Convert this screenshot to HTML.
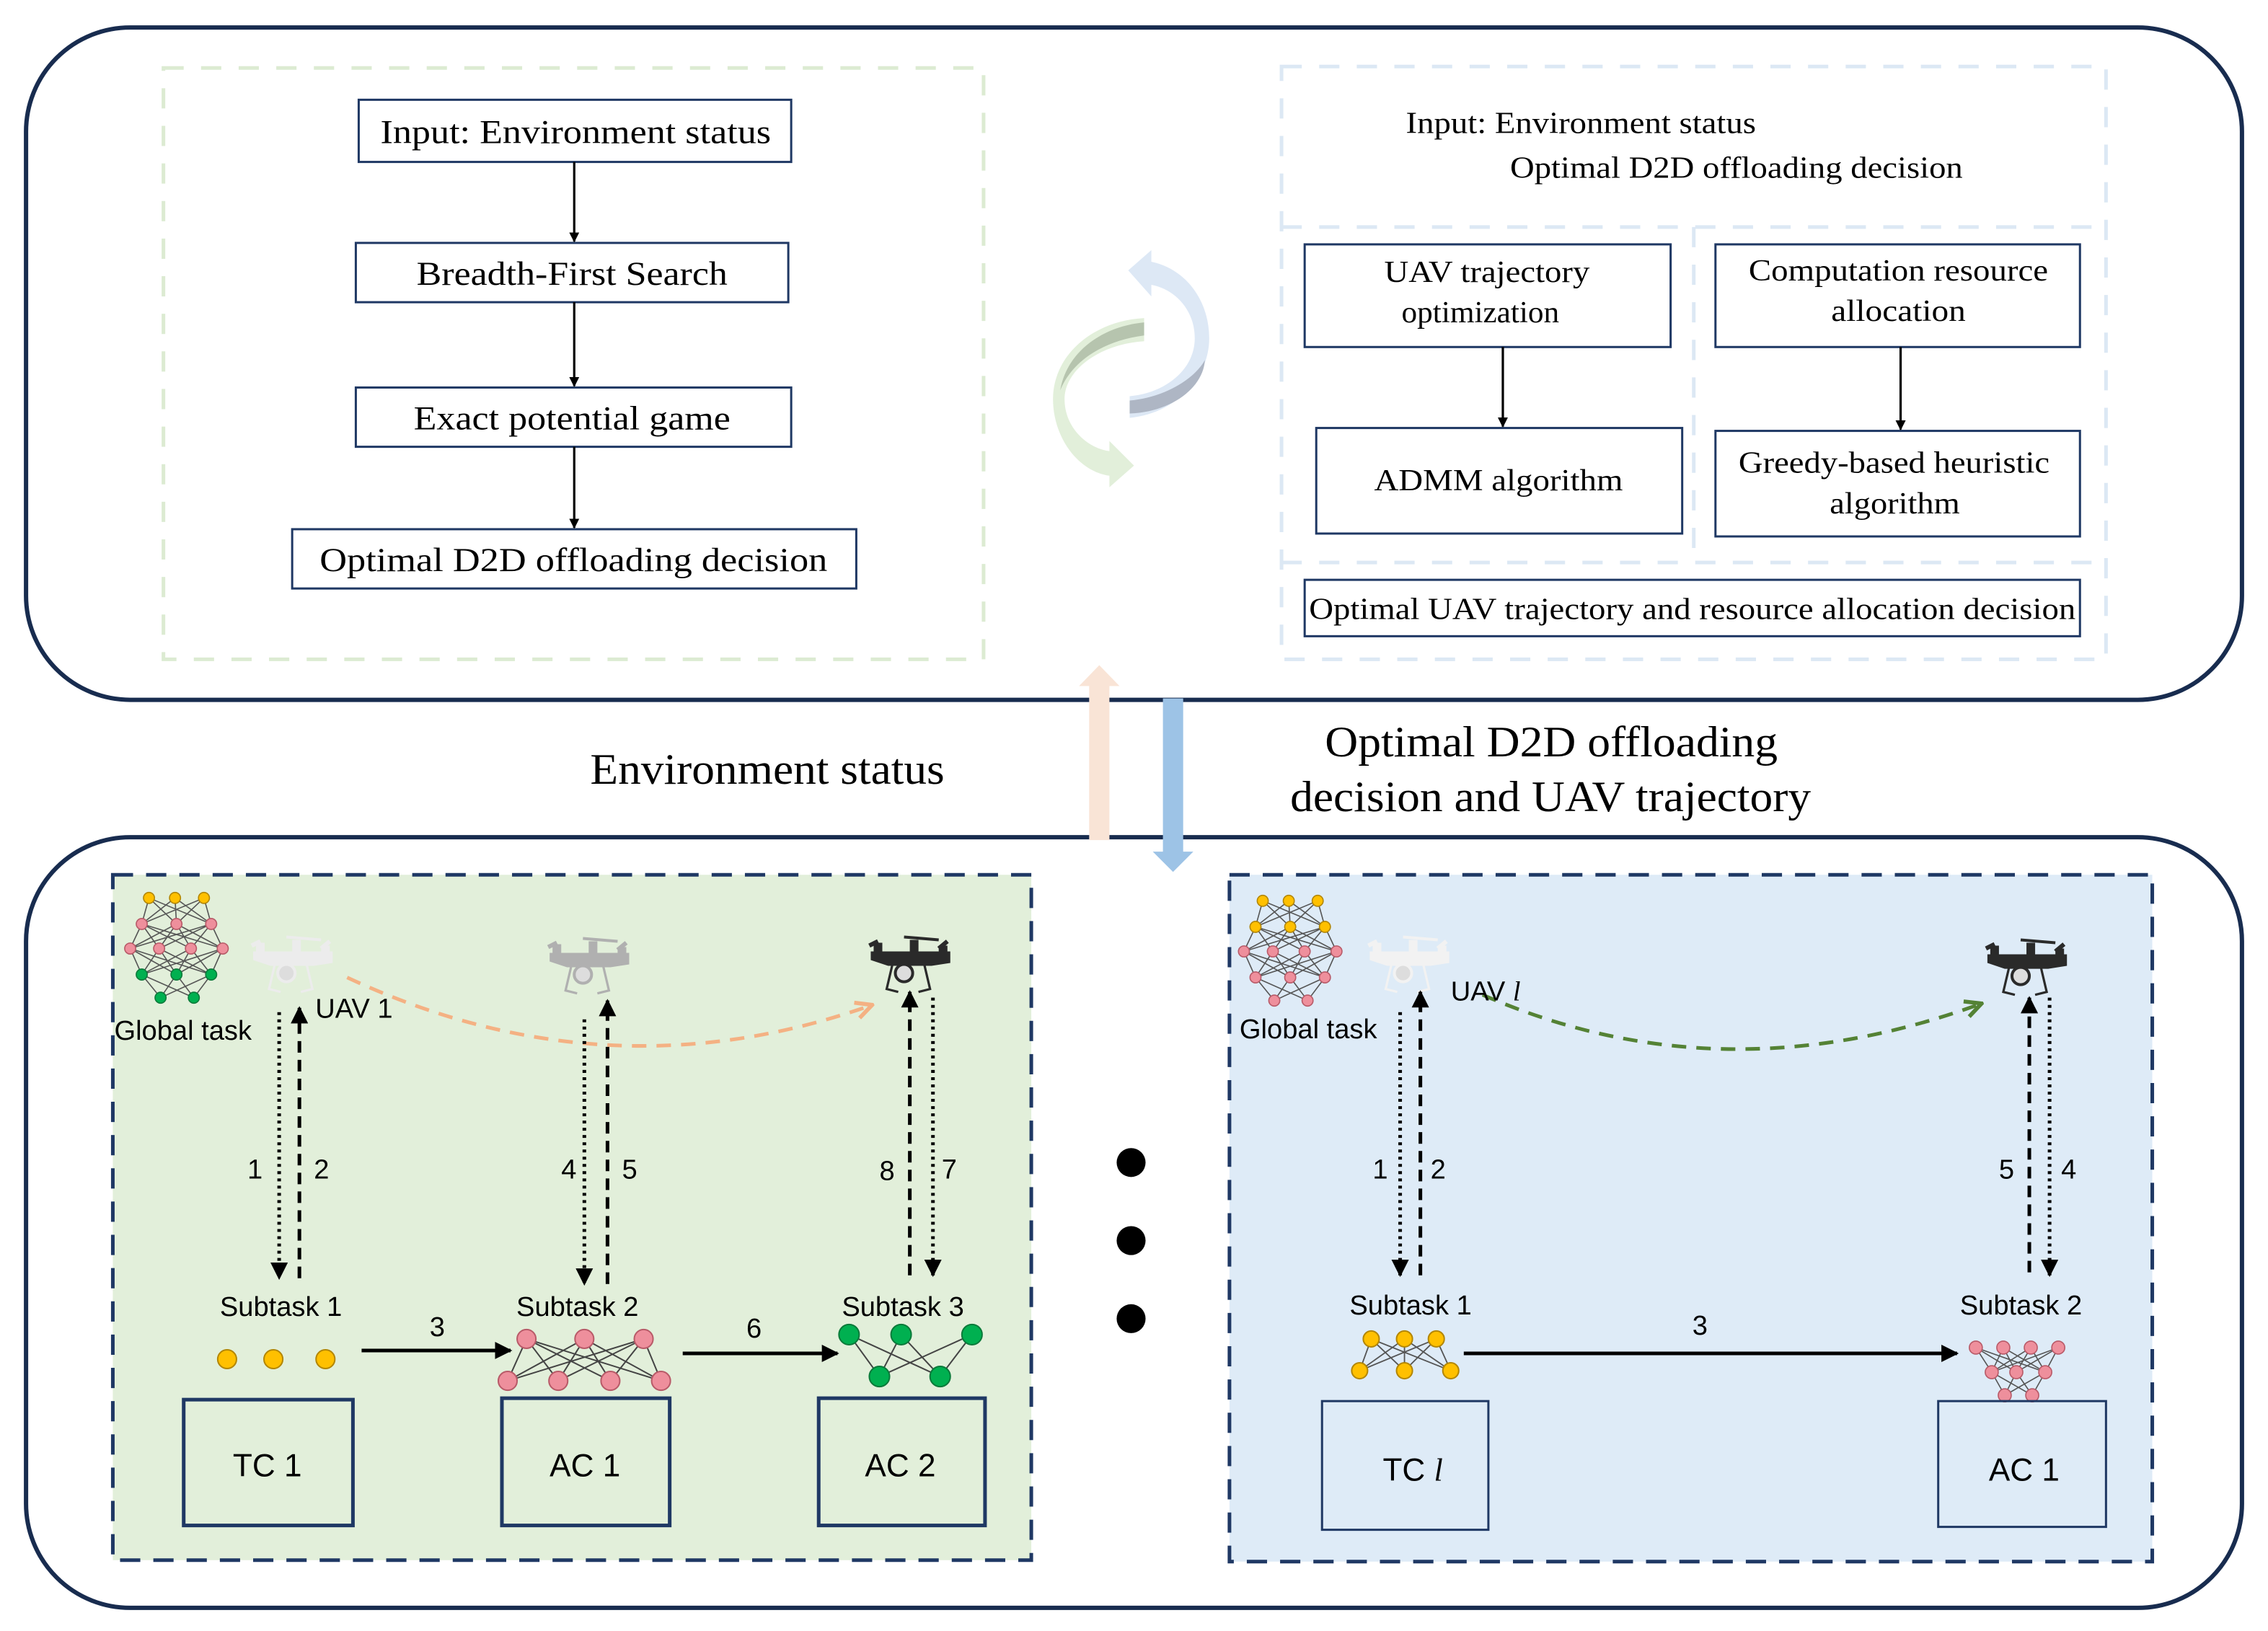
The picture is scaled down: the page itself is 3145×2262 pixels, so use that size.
<!DOCTYPE html>
<html><head><meta charset="utf-8">
<style>
html,body{margin:0;padding:0;background:#fff;}
svg{display:block;}
.serif{font-family:"Liberation Serif",serif;fill:#000;}
.sans{font-family:"Liberation Sans",sans-serif;fill:#000;}
</style></head>
<body>
<svg width="3145" height="2262" viewBox="0 0 1568 1128" preserveAspectRatio="none" xmlns="http://www.w3.org/2000/svg" xmlns:xlink="http://www.w3.org/1999/xlink">
<defs>
<marker id="ah" viewBox="0 0 10 10" refX="9" refY="5" markerWidth="7" markerHeight="7" orient="auto" markerUnits="userSpaceOnUse"><path d="M0,0 L10,5 L0,10 z" fill="#000"/></marker>
<marker id="ahb" viewBox="0 0 10 10" refX="9" refY="5" markerWidth="12" markerHeight="12" orient="auto" markerUnits="userSpaceOnUse"><path d="M0,0 L10,5 L0,10 z" fill="#000"/></marker>
<marker id="aho" viewBox="0 0 10 10" refX="9" refY="5" markerWidth="14" markerHeight="14" orient="auto" markerUnits="userSpaceOnUse"><path d="M1,1 L9,5 L1,9" fill="none" stroke="#f4b183" stroke-width="2"/></marker>
<marker id="ahg" viewBox="0 0 10 10" refX="9" refY="5" markerWidth="14" markerHeight="14" orient="auto" markerUnits="userSpaceOnUse"><path d="M1,1 L9,5 L1,9" fill="none" stroke="#548235" stroke-width="2"/></marker>
<g id="gl"><path fill="none" stroke="#555" stroke-width="0.8" d="M103,621L98,639M103,621L122,639M103,621L146,639M121,621L98,639M121,621L122,639M121,621L146,639M141,621L98,639M141,621L122,639M141,621L146,639M98,639L90,656M98,639L110,656M98,639L132,656M98,639L154,656M122,639L90,656M122,639L110,656M122,639L132,656M122,639L154,656M146,639L90,656M146,639L110,656M146,639L132,656M146,639L154,656M90,656L98,674M90,656L122,674M90,656L146,674M110,656L98,674M110,656L122,674M110,656L146,674M132,656L98,674M132,656L122,674M132,656L146,674M154,656L98,674M154,656L122,674M154,656L146,674M98,674L111,690M98,674L134,690M122,674L111,690M122,674L134,690M146,674L111,690M146,674L134,690"/></g>
<g id="drone">
<line x1="26" y1="2" x2="50" y2="4" stroke="currentColor" stroke-width="2"/>
<line x1="2" y1="8" x2="8" y2="5" stroke="currentColor" stroke-width="3"/>
<line x1="50" y1="10" x2="56" y2="5" stroke="currentColor" stroke-width="3"/>
<path d="M3,12 L58,12 L58,20 L45,22 L15,22 L3,18 Z" fill="currentColor"/>
<rect x="30" y="4" width="6" height="9" fill="currentColor"/>
<rect x="5" y="6" width="6" height="12" fill="currentColor"/>
<rect x="50" y="8" width="6" height="12" fill="currentColor"/>
<circle cx="26" cy="27" r="6" fill="#dddddd" stroke="currentColor" stroke-width="2"/>
<path d="M18,21 L14,38 L22,40 M40,21 L44,38 L36,40" fill="none" stroke="currentColor" stroke-width="1.6"/>
</g>
</defs>

<rect x="18" y="19" width="1532" height="465" rx="72" fill="none" stroke="#182c4f" stroke-width="3"/>
<rect x="18" y="579" width="1532" height="533" rx="72" fill="none" stroke="#182c4f" stroke-width="3"/>

<!-- top-left flow -->
<rect x="113" y="47" width="567" height="409" fill="none" stroke="#dcebd2" stroke-width="2.5" stroke-dasharray="14,12"/>
<g fill="none" stroke="#1f3864" stroke-width="1.5">
<rect x="248" y="69" width="299" height="43"/>
<rect x="246" y="168" width="299" height="41"/>
<rect x="246" y="268" width="301" height="41"/>
<rect x="202" y="366" width="390" height="41"/>
</g>
<g stroke="#000" stroke-width="1.6" marker-end="url(#ah)">
<line x1="397" y1="112" x2="397" y2="167"/>
<line x1="397" y1="209" x2="397" y2="267"/>
<line x1="397" y1="309" x2="397" y2="365"/>
</g>
<g class="serif" font-size="23">
<text x="263" y="99" textLength="270" lengthAdjust="spacingAndGlyphs">Input: Environment status</text>
<text x="288" y="197" textLength="215" lengthAdjust="spacingAndGlyphs">Breadth-First Search</text>
<text x="286" y="297" textLength="219" lengthAdjust="spacingAndGlyphs">Exact potential game</text>
<text x="221" y="395" textLength="351" lengthAdjust="spacingAndGlyphs">Optimal D2D offloading decision</text>
</g>

<!-- cycle arrows -->
<path d="M796,181 C820,186 836,208 836,234 C836,262 812,286 781,289 L781,274 C805,272 826,256 826,234 C826,214 812,200 796,197 L796,205 L780,187 L796,173 Z" fill="#dde8f5"/>
<path d="M781,277 C805,275 826,262 833,249 C832,268 810,285 781,286 Z" fill="#aeb6c4"/>
<path d="M791,220 L791,236 C760,238 736,256 736,276 C736,296 752,310 767,312 L767,305 L784,322 L767,337 L767,329 C745,326 728,302 728,276 C728,246 755,222 791,220 Z" fill="#e2efda"/>
<path d="M791,223 L791,232 C760,236 740,252 733,270 C737,245 760,226 791,223 Z" fill="#b6c4ae"/>

<!-- top-right -->
<g fill="none" stroke="#dce8f4" stroke-width="2.5" stroke-dasharray="14,12">
<rect x="886" y="46" width="570" height="410"/>
<line x1="886" y1="157" x2="1456" y2="157"/>
<line x1="886" y1="389" x2="1456" y2="389"/>
<line x1="1171" y1="157" x2="1171" y2="389"/>
</g>
<g class="serif" font-size="21">
<text x="972" y="92" textLength="242" lengthAdjust="spacingAndGlyphs">Input: Environment status</text>
<text x="1044" y="123" textLength="313" lengthAdjust="spacingAndGlyphs">Optimal D2D offloading decision</text>
</g>
<g fill="none" stroke="#1f3864" stroke-width="1.5">
<rect x="902" y="169" width="253" height="71"/>
<rect x="1186" y="169" width="252" height="71"/>
<rect x="910" y="296" width="253" height="73"/>
<rect x="1186" y="298" width="252" height="73"/>
<rect x="902" y="401" width="536" height="39"/>
</g>
<g stroke="#000" stroke-width="1.6" marker-end="url(#ah)">
<line x1="1039" y1="240" x2="1039" y2="295"/>
<line x1="1314" y1="240" x2="1314" y2="297"/>
</g>
<g class="serif" font-size="21">
<text x="957" y="195" textLength="142" lengthAdjust="spacingAndGlyphs">UAV trajectory</text>
<text x="969" y="223" textLength="109" lengthAdjust="spacingAndGlyphs">optimization</text>
<text x="1209" y="194" textLength="207" lengthAdjust="spacingAndGlyphs">Computation resource</text>
<text x="1266" y="222" textLength="93" lengthAdjust="spacingAndGlyphs">allocation</text>
<text x="950" y="339" textLength="172" lengthAdjust="spacingAndGlyphs">ADMM algorithm</text>
<text x="1202" y="327" textLength="215" lengthAdjust="spacingAndGlyphs">Greedy-based heuristic</text>
<text x="1265" y="355" textLength="90" lengthAdjust="spacingAndGlyphs">algorithm</text>
<text x="905" y="428" textLength="530" lengthAdjust="spacingAndGlyphs">Optimal UAV trajectory and resource allocation decision</text>
</g>

<!-- middle big arrows -->
<path d="M753,581 L753,474.5 L746,474.5 L760,460 L774,474.5 L767,474.5 L767,581 Z" fill="#f9e4d6"/>
<path d="M804,483 L818,483 L818,589 L825,589 L811,603 L797,589 L804,589 Z" fill="#9dc3e6"/>
<g class="serif" font-size="30">
<text x="408" y="542" textLength="245" lengthAdjust="spacingAndGlyphs">Environment status</text>
<text x="916" y="523" textLength="313" lengthAdjust="spacingAndGlyphs">Optimal D2D offloading</text>
<text x="892" y="561" textLength="360" lengthAdjust="spacingAndGlyphs">decision and UAV trajectory</text>
</g>

<!-- bottom panels -->
<rect x="78" y="605" width="635" height="474" fill="#e2efda" stroke="#1f3864" stroke-width="2.5" stroke-dasharray="14,9"/>
<rect x="850" y="605" width="638" height="475" fill="#deebf7" stroke="#1f3864" stroke-width="2.5" stroke-dasharray="14,9"/>

<circle cx="782" cy="804" r="10" fill="#000"/>
<circle cx="782" cy="858" r="10" fill="#000"/>
<circle cx="782" cy="912" r="10" fill="#000"/>

<!-- global task nets -->
<use xlink:href="#gl" href="#gl"/>
<g stroke-width="0.8">
<g fill="#ffc000" stroke="#b38600"><circle cx="103" cy="621" r="3.8"/><circle cx="121" cy="621" r="3.8"/><circle cx="141" cy="621" r="3.8"/></g>
<g fill="#ee8f9c" stroke="#b85a68"><circle cx="98" cy="639" r="3.8"/><circle cx="122" cy="639" r="3.8"/><circle cx="146" cy="639" r="3.8"/><circle cx="90" cy="656" r="3.8"/><circle cx="110" cy="656" r="3.8"/><circle cx="132" cy="656" r="3.8"/><circle cx="154" cy="656" r="3.8"/></g>
<g fill="#00b050" stroke="#0a7a3a"><circle cx="98" cy="674" r="3.8"/><circle cx="122" cy="674" r="3.8"/><circle cx="146" cy="674" r="3.8"/><circle cx="111" cy="690" r="3.8"/><circle cx="134" cy="690" r="3.8"/></g>
</g>
<use xlink:href="#gl" href="#gl" transform="translate(770,2)"/>
<g stroke-width="0.8">
<g fill="#ffc000" stroke="#b38600"><circle cx="873" cy="623" r="3.8"/><circle cx="891" cy="623" r="3.8"/><circle cx="911" cy="623" r="3.8"/><circle cx="868" cy="641" r="3.8"/><circle cx="892" cy="641" r="3.8"/><circle cx="916" cy="641" r="3.8"/></g>
<g fill="#ee8f9c" stroke="#b85a68"><circle cx="860" cy="658" r="3.8"/><circle cx="880" cy="658" r="3.8"/><circle cx="902" cy="658" r="3.8"/><circle cx="924" cy="658" r="3.8"/><circle cx="868" cy="676" r="3.8"/><circle cx="892" cy="676" r="3.8"/><circle cx="916" cy="676" r="3.8"/><circle cx="881" cy="692" r="3.8"/><circle cx="904" cy="692" r="3.8"/></g>
</g>

<!-- subtask nets -->
<path fill="none" stroke="#444" stroke-width="1" d="M364,926L351,955M364,926L386,955M364,926L422,955M364,926L457,955M404,926L351,955M404,926L386,955M404,926L422,955M404,926L457,955M445,926L351,955M445,926L386,955M445,926L422,955M445,926L457,955"/>
<g fill="#ee8f9c" stroke="#b85a68" stroke-width="1"><circle cx="364" cy="926" r="6.5"/><circle cx="404" cy="926" r="6.5"/><circle cx="445" cy="926" r="6.5"/><circle cx="351" cy="955" r="6.5"/><circle cx="386" cy="955" r="6.5"/><circle cx="422" cy="955" r="6.5"/><circle cx="457" cy="955" r="6.5"/></g>
<path fill="none" stroke="#444" stroke-width="1" d="M587,923L608,952M623,923L608,952M623,923L650,952M672,923L650,952M587,923L650,952M672,923L608,952"/>
<g fill="#00b050" stroke="#0a7a3a" stroke-width="1"><circle cx="587" cy="923" r="7"/><circle cx="623" cy="923" r="7"/><circle cx="672" cy="923" r="7"/><circle cx="608" cy="952" r="7"/><circle cx="650" cy="952" r="7"/></g>
<path fill="none" stroke="#555" stroke-width="0.9" d="M948,926L940,948M948,926L971,948M948,926L1003,948M971,926L940,948M971,926L971,948M971,926L1003,948M993,926L940,948M993,926L971,948M993,926L1003,948"/>
<g fill="#ffc000" stroke="#b38600" stroke-width="1"><circle cx="948" cy="926" r="5.5"/><circle cx="971" cy="926" r="5.5"/><circle cx="993" cy="926" r="5.5"/><circle cx="940" cy="948" r="5.5"/><circle cx="971" cy="948" r="5.5"/><circle cx="1003" cy="948" r="5.5"/></g>
<path fill="none" stroke="#555" stroke-width="0.8" d="M1366,932L1377,949M1366,932L1394,949M1366,932L1414,949M1385,932L1377,949M1385,932L1394,949M1385,932L1414,949M1404,932L1377,949M1404,932L1394,949M1404,932L1414,949M1423,932L1377,949M1423,932L1394,949M1423,932L1414,949M1377,949L1386,965M1377,949L1405,965M1394,949L1386,965M1394,949L1405,965M1414,949L1386,965M1414,949L1405,965"/>
<g fill="#ee8f9c" stroke="#b85a68" stroke-width="0.8"><circle cx="1366" cy="932" r="4.5"/><circle cx="1385" cy="932" r="4.5"/><circle cx="1404" cy="932" r="4.5"/><circle cx="1423" cy="932" r="4.5"/><circle cx="1377" cy="949" r="4.5"/><circle cx="1394" cy="949" r="4.5"/><circle cx="1414" cy="949" r="4.5"/><circle cx="1386" cy="965" r="4.5"/><circle cx="1405" cy="965" r="4.5"/></g>

<!-- drones -->
<use xlink:href="#drone" href="#drone" transform="translate(172,646)" style="color:#ececec"/>
<use xlink:href="#drone" href="#drone" transform="translate(377,647)" style="color:#b0b0b0"/>
<use xlink:href="#drone" href="#drone" transform="translate(599,646)" style="color:#2a2a2a"/>
<use xlink:href="#drone" href="#drone" transform="translate(944,646)" style="color:#f2f2f2"/>
<use xlink:href="#drone" href="#drone" transform="translate(1371,648)" style="color:#2a2a2a"/>

<!-- left panel arrows -->
<path d="M240,676 Q420,760 603,695" fill="none" stroke="#f4b183" stroke-width="2.5" stroke-dasharray="10,7" marker-end="url(#aho)"/>
<g stroke="#000" stroke-width="2.5">
<line x1="193" y1="700" x2="193" y2="884" stroke-dasharray="2,3" marker-end="url(#ahb)"/>
<line x1="207" y1="884" x2="207" y2="697" stroke-dasharray="8,5" marker-end="url(#ahb)"/>
<line x1="404" y1="705" x2="404" y2="888" stroke-dasharray="2,3" marker-end="url(#ahb)"/>
<line x1="420" y1="888" x2="420" y2="692" stroke-dasharray="8,5" marker-end="url(#ahb)"/>
<line x1="629" y1="882" x2="629" y2="686" stroke-dasharray="8,5" marker-end="url(#ahb)"/>
<line x1="645" y1="690" x2="645" y2="882" stroke-dasharray="2,3" marker-end="url(#ahb)"/>
<line x1="250" y1="934" x2="353" y2="934" marker-end="url(#ahb)"/>
<line x1="472" y1="936" x2="579" y2="936" marker-end="url(#ahb)"/>
</g>
<g class="sans" font-size="19">
<text x="79" y="719">Global task</text>
<text x="218" y="704">UAV 1</text>
<text x="171" y="815">1</text><text x="217" y="815">2</text>
<text x="388" y="815">4</text><text x="430" y="815">5</text>
<text x="608" y="816">8</text><text x="651" y="815">7</text>
<text x="297" y="924">3</text><text x="516" y="925">6</text>
<text x="152" y="910">Subtask 1</text>
<text x="357" y="910">Subtask 2</text>
<text x="582" y="910">Subtask 3</text>
</g>
<g fill="#ffc000" stroke="#b38600" stroke-width="1">
<circle cx="157" cy="940" r="6.5"/><circle cx="189" cy="940" r="6.5"/><circle cx="225" cy="940" r="6.5"/>
</g>
<g fill="none" stroke="#1f3864" stroke-width="2.5">
<rect x="127" y="968" width="117" height="87"/>
<rect x="347" y="967" width="116" height="88"/>
<rect x="566" y="967" width="115" height="88"/>
<rect x="914" y="969" width="115" height="89" stroke-width="1.5"/>
<rect x="1340" y="969" width="116" height="87" stroke-width="1.5"/>
</g>
<g class="sans" font-size="22">
<text x="161" y="1021">TC 1</text>
<text x="380" y="1021">AC 1</text>
<text x="598" y="1021">AC 2</text>
<text x="956" y="1024">TC <tspan font-family="Liberation Serif" font-style="italic">l</tspan></text>
<text x="1375" y="1024">AC 1</text>
</g>

<!-- right panel arrows -->
<path d="M1025,688 Q1190,760 1370,694" fill="none" stroke="#548235" stroke-width="2.5" stroke-dasharray="10,7" marker-end="url(#ahg)"/>
<g stroke="#000" stroke-width="2.5">
<line x1="968" y1="700" x2="968" y2="882" stroke-dasharray="2,3" marker-end="url(#ahb)"/>
<line x1="982" y1="882" x2="982" y2="686" stroke-dasharray="8,5" marker-end="url(#ahb)"/>
<line x1="1403" y1="880" x2="1403" y2="690" stroke-dasharray="8,5" marker-end="url(#ahb)"/>
<line x1="1417" y1="690" x2="1417" y2="882" stroke-dasharray="2,3" marker-end="url(#ahb)"/>
<line x1="1012" y1="936" x2="1353" y2="936" marker-end="url(#ahb)"/>
</g>
<g class="sans" font-size="19">
<text x="857" y="718">Global task</text>
<text x="1003" y="692">UAV <tspan font-family="Liberation Serif" font-style="italic">l</tspan></text>
<text x="949" y="815">1</text><text x="989" y="815">2</text>
<text x="1382" y="815">5</text><text x="1425" y="815">4</text>
<text x="1170" y="923">3</text>
<text x="933" y="909">Subtask 1</text>
<text x="1355" y="909">Subtask 2</text>
</g>
</svg>
</body></html>
